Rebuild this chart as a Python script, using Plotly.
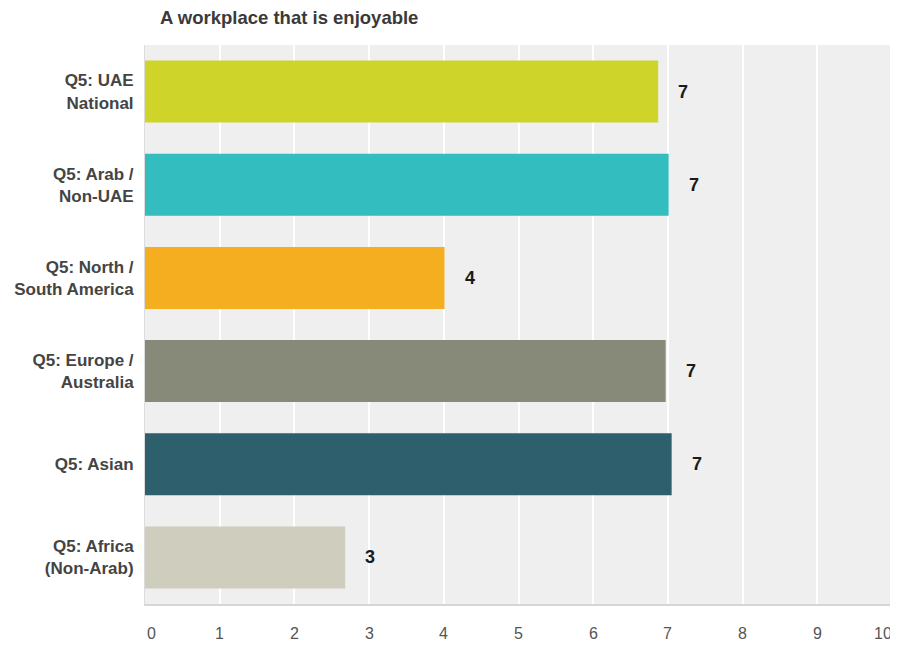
import plotly.graph_objects as go

categories = ["Q5: UAE<br>National", "Q5: Arab /<br>Non-UAE", "Q5: North /<br>South America",
              "Q5: Europe /<br>Australia", "Q5: Asian", "Q5: Africa<br>(Non-Arab)"]
values = [6.87, 7.01, 4.01, 6.97, 7.05, 2.68]
labels = ["7", "7", "4", "7", "7", "3"]
colors = ["#cfd42a", "#33bdbf", "#f5ae1f", "#888a79", "#2d5f6c", "#cfcdbe"]
x_ticks = list(range(0, 11))
x_tick_labels = [str(v) for v in x_ticks]

# page body has an 8px default margin, so the figure is sized to fit the 898x646 window
W, H = 890, 638

fig = go.Figure()
fig.add_trace(go.Bar(
    y=categories, x=values, orientation="h",
    marker=dict(color=colors, line=dict(width=0)),
    hoverinfo="skip",
))
for c, v, t in zip(categories, values, labels):
    fig.add_annotation(x=v, y=c, text="<b>%s</b>" % t, showarrow=False,
                       xanchor="left", xshift=18,
                       font=dict(family="Liberation Sans, Arial", size=18, color="#1a1a1a"))

# x tick labels (edge labels are pulled slightly inside the plot, as in the reference)
for i, (v, t) in enumerate(zip(x_ticks, x_tick_labels)):
    shift = 6 if i == 0 else (-9 if i == len(x_ticks) - 1 else 0)
    fig.add_annotation(x=v, xref="x", y=0, yref="paper", text=t, showarrow=False,
                       xanchor="center", yanchor="middle", xshift=shift, yshift=-29,
                       font=dict(family="Liberation Sans, Arial", size=16, color="#555555"))

fig.update_layout(
    width=W, height=H,
    margin=dict(l=137, r=6, t=37, b=42, autoexpand=False),
    paper_bgcolor="white", plot_bgcolor="#efefef",
    bargap=0.335,
    showlegend=False,
    title=dict(text="<b>A workplace that is enjoyable</b>", x=(160 - 8) / W, xanchor="left",
               y=1 - 10 / H, yanchor="middle",
               font=dict(family="Liberation Sans, Arial", size=18.5, color="#3a3a3a")),
    font=dict(family="Liberation Sans, Arial"),
)
fig.update_xaxes(range=[0, 10], tickvals=x_ticks, showticklabels=False, showgrid=True,
                 gridcolor="#ffffff", gridwidth=2, automargin=False,
                 zeroline=False, showline=True, linecolor="#d6d6d6", linewidth=2,
                 ticks="")
fig.update_yaxes(autorange="reversed", showline=True, linecolor="#dcdcdc", linewidth=1,
                 ticks="", ticklabelstandoff=7, automargin=False,
                 tickfont=dict(size=17, color="#444444", weight="bold"))
fig.write_html("out.html")
